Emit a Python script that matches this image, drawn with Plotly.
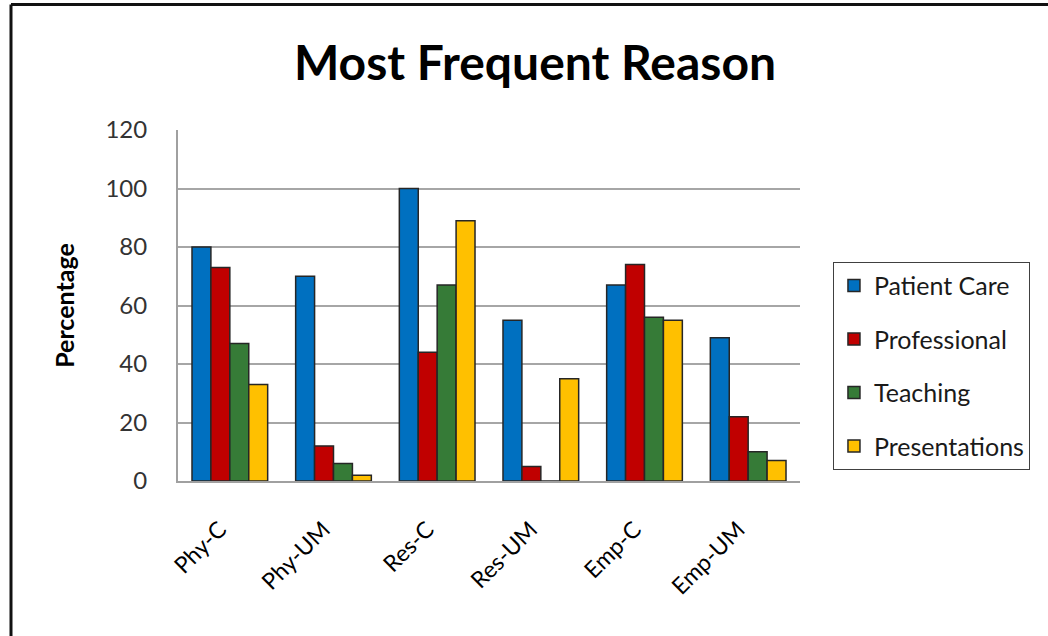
import plotly.graph_objects as go

# Survey groups and the share of respondents citing each reason (%)
groups = ["Phy-C", "Phy-UM", "Res-C", "Res-UM", "Emp-C", "Emp-UM"]
patient_care = [80, 70, 100, 55, 67, 49]
professional = [73, 12, 44, 5, 74, 22]
teaching = [47, 6, 67, 0, 56, 10]
presentations = [33, 2, 89, 35, 55, 7]

y_ticks = [0, 20, 40, 60, 80, 100, 120]

series = [
    ("Patient Care", patient_care, "#0070c0"),
    ("Professional", professional, "#c00000"),
    ("Teaching", teaching, "#367b37"),
    ("Presentations", presentations, "#ffc000"),
]

FONT = "Lato, 'Open Sans', sans-serif"

fig = go.Figure()
for i, (name, vals, color) in enumerate(series):
    fig.add_trace(go.Bar(
        name=name,
        x=groups,
        y=vals,
        marker=dict(color=color, line=dict(color="#262626", width=1.5)),
        legendgroup=f"g{i}",
    ))

fig.update_layout(
    width=1048,
    height=636,
    margin=dict(l=178, r=248, t=130, b=155),
    paper_bgcolor="white",
    plot_bgcolor="white",
    barmode="group",
    bargap=0.27,
    bargroupgap=0,
    font=dict(family=FONT, color="#1a1a1a"),
    title=dict(
        text="<b>Most Frequent Reason</b>",
        font=dict(family=FONT, size=48, color="#000000"),
        x=0.574, xanchor="center", xref="paper",
        y=0.9, yanchor="middle",
    ),
    showlegend=True,
    legend=dict(
        x=1.053, xanchor="left",
        y=0.625, yanchor="top",
        bordercolor="#404040", borderwidth=1,
        bgcolor="white",
        font=dict(family=FONT, size=25, color="#1a1a1a"),
        tracegroupgap=18,
        traceorder="grouped",
    ),
    xaxis=dict(
        showline=True, linecolor="#a0a0a0", linewidth=2,
        showgrid=False,
        tickangle=-45,
        tickfont=dict(family=FONT, size=23, color="#000000"),
        ticks="",
        ticklabelstandoff=24,
        ticklabelshift=-10,
    ),
    yaxis=dict(
        range=[0, 120],
        tickvals=y_ticks,
        showline=True, linecolor="#a0a0a0", linewidth=2,
        showgrid=True, gridcolor="#a6a6a6", gridwidth=1.5,
        tickfont=dict(family=FONT, size=24, color="#333333"),
        ticks="",
        ticklabelstandoff=24,
        zeroline=False,
        title=dict(text="<b>Percentage</b>", font=dict(family=FONT, size=25, color="#000000"), standoff=24),
    ),
    shapes=[
        # outer frame along the top and left edges
        dict(type="line", xref="paper", yref="paper", x0=-0.2685, x1=1.5, y0=1.3575, y1=1.3575,
             line=dict(color="#111111", width=3)),
        dict(type="line", xref="paper", yref="paper", x0=-0.2685, x1=-0.2685, y0=1.3575, y1=-0.5,
             line=dict(color="#111111", width=3)),
    ],
)

fig.write_html("out.html")
